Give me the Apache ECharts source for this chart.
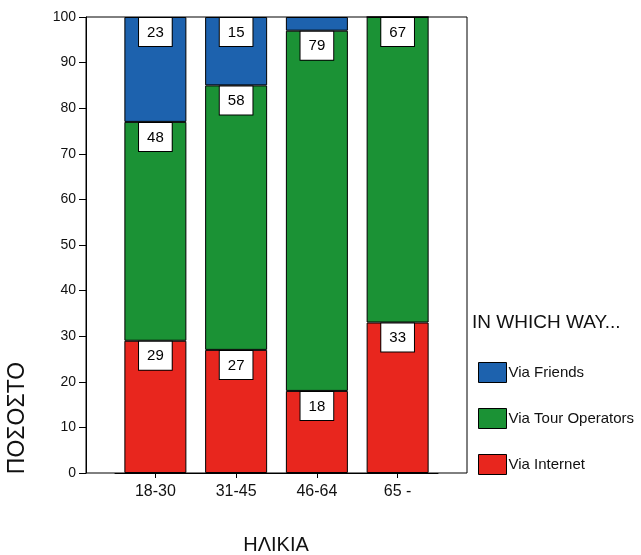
<!DOCTYPE html>
<html>
<head>
<meta charset="utf-8">
<script src="https://cdn.jsdelivr.net/npm/echarts@6/dist/echarts.min.js"></script>
<style>
html,body{margin:0;padding:0;background:#fff;}
#chart{width:641px;height:555px;}
</style>
</head>
<body>
<div id="chart"></div>
<script>
const categories = ['18-30', '31-45', '46-64', '65 -'];
const viaInternet = [29, 27, 18, 33];
const viaTourOperators = [48, 58, 79, 67];
const viaFriends = [23, 15, 3, 0];
const yMin = 0, yMax = 100, yInterval = 10;

const FONT = '"Liberation Sans", Arial, sans-serif';
const colors = { internet: '#e8261e', tour: '#1b9235', friends: '#1d62ae' };

function seriesData(values) {
  return values.map(v => ({ value: v, label: { show: v >= 5 } }));
}

function makeSeries(name, values, color) {
  return {
    name: name,
    type: 'bar',
    stack: 'total',
    xAxisIndex: 0,
    yAxisIndex: 0,
    barWidth: 62,
    data: seriesData(values),
    itemStyle: { color: color, borderColor: '#000', borderWidth: 1 },
    label: {
      position: 'insideTop',
      distance: 1,
      fontFamily: FONT,
      fontSize: 15,
      color: '#000',
      backgroundColor: '#fff',
      borderColor: '#000',
      borderWidth: 1,
      padding: [6, 8, 5, 8],
      lineHeight: 17
    },
    emphasis: { disabled: true },
    animation: false
  };
}

const chart = echarts.init(document.getElementById('chart'));
chart.setOption({
  animation: false,
  backgroundColor: '#fff',
  textStyle: { fontFamily: FONT },
  grid: [
    { left: 115, top: 17, width: 323, height: 456, show: false },
    { left: 86, top: 17, width: 381, height: 456, show: true, borderColor: '#000', borderWidth: 1, backgroundColor: 'transparent' }
  ],
  xAxis: [
    {
      type: 'category',
      gridIndex: 0,
      data: categories,
      axisLine: { show: true, lineStyle: { color: '#000' } },
      axisTick: { show: true, alignWithLabel: true, length: 5, lineStyle: { color: '#000' } },
      axisLabel: { fontFamily: FONT, fontSize: 16, color: '#111', margin: 11 },
      splitLine: { show: false }
    },
    { type: 'value', gridIndex: 1, show: false }
  ],
  yAxis: [
    {
      type: 'value',
      gridIndex: 0,
      min: yMin,
      max: yMax,
      interval: yInterval,
      offset: 29,
      axisLine: { show: true, lineStyle: { color: '#000' } },
      axisTick: { show: true, length: 7, lineStyle: { color: '#000' } },
      axisLabel: { fontFamily: FONT, fontSize: 14, color: '#111', margin: 10 },
      splitLine: { show: false }
    },
    { type: 'value', gridIndex: 1, show: false }
  ],
  title: {
    text: 'IN WHICH WAY...',
    left: 472,
    top: 313,
    padding: 0,
    textStyle: { fontFamily: FONT, fontSize: 19, fontWeight: 'normal', color: '#111' }
  },
  legend: {
    orient: 'vertical',
    left: 478,
    top: 362,
    padding: 0,
    itemGap: 25,
    itemWidth: 28,
    itemHeight: 20,
    icon: 'rect',
    selectedMode: false,
    data: ['Via Friends', 'Via Tour Operators', 'Via Internet'],
    itemStyle: { borderColor: '#000', borderWidth: 1 },
    textStyle: { fontFamily: FONT, fontSize: 15, color: '#111', padding: [0, 0, 0, -3] }
  },
  graphic: [
    {
      type: 'text',
      x: 18,
      y: 418,
      rotation: Math.PI / 2,
      style: { text: 'ΠΟΣΟΣΤΟ', fontFamily: FONT, fontSize: 23, fill: '#111', align: 'center', verticalAlign: 'middle' }
    },
    {
      type: 'text',
      x: 276,
      y: 545,
      style: { text: 'ΗΛΙΚΙΑ', fontFamily: FONT, fontSize: 20, fill: '#111', align: 'center', verticalAlign: 'middle' }
    }
  ],
  series: [
    makeSeries('Via Internet', viaInternet, colors.internet),
    makeSeries('Via Tour Operators', viaTourOperators, colors.tour),
    makeSeries('Via Friends', viaFriends, colors.friends)
  ]
});
</script>
</body>
</html>
